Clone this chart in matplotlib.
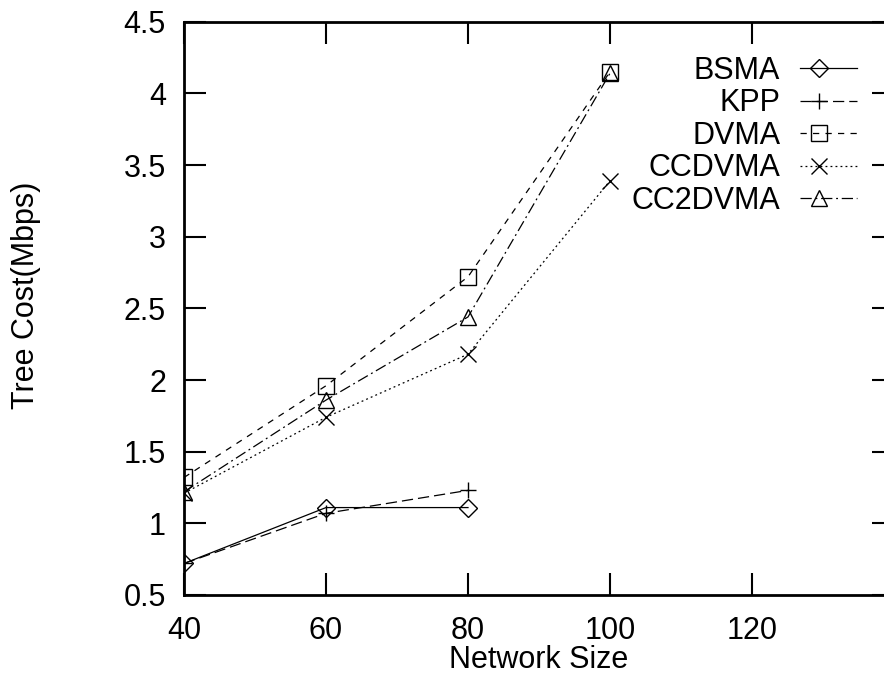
import matplotlib
matplotlib.use("Agg")
import matplotlib.pyplot as plt
import matplotlib.lines as mlines
import numpy as np
from matplotlib.legend_handler import HandlerLine2DCompound

plt.rcParams['font.family'] = ['Liberation Sans', 'DejaVu Sans']

network_size = [40, 60, 80, 100]
bsma = [0.72, 1.11, 1.11]
kpp = [0.72, 1.07, 1.23]
dvma = [1.32, 1.96, 2.72, 4.15]
ccdvma = [1.21, 1.74, 2.18, 3.39]
cc2dvma = [1.22, 1.86, 2.44, 4.14]

x_ticks = [40, 60, 80, 100, 120]
y_ticks = [0.5, 1, 1.5, 2, 2.5, 3, 3.5, 4, 4.5]
y_tick_labels = ['0.5', '1', '1.5', '2', '2.5', '3', '3.5', '4', '4.5']


class OffsetMarkerHandler(HandlerLine2DCompound):
    def get_xdata(self, legend, xdescent, ydescent, width, height, fontsize):
        xdata = np.array([-xdescent, -xdescent + width])
        xm = np.array([-xdescent + 0.33 * width])
        return xdata, xm


W, H = 884, 677
fig = plt.figure(figsize=(W / 100, H / 100), dpi=100)
ax = fig.add_axes([184 / W, 82 / H, 710 / W, 573.3 / H])

fs = 22
lw = 0.9
common = dict(color='black', lw=lw, markerfacecolor='none', markeredgecolor='black', markeredgewidth=1.0)

series = [
    ('BSMA', bsma, dict(ls='-', marker='D', ms=9.5)),
    ('KPP', kpp, dict(ls=(0, (9, 4)), marker='+', ms=12)),
    ('DVMA', dvma, dict(ls=(0, (5, 5)), marker='s', ms=11.5)),
    ('CCDVMA', ccdvma, dict(ls=(0, (1.5, 2.5)), marker='x', ms=11)),
    ('CC2DVMA', cc2dvma, dict(ls=(0, (9, 3, 1.5, 3)), marker='^', ms=12)),
]
for name, vals, style in series:
    ax.plot(network_size[:len(vals)], vals, label=name, **common, **style)

ax.set_xlim(40, 140)
ax.set_ylim(0.5, 4.5)
ax.set_xticks(x_ticks)
ax.set_yticks(y_ticks)
ax.set_yticklabels(y_tick_labels)
ax.tick_params(axis='both', which='both', direction='in', length=16, width=1.5,
               top=True, right=True, labelsize=fs)
ax.tick_params(axis='y', pad=13)
ax.tick_params(axis='x', pad=15)
for sp in ax.spines.values():
    sp.set_linewidth(2)

ax.set_xlabel('Network Size', fontsize=fs)
ax.set_ylabel('Tree Cost(Mbps)', fontsize=fs)
ax.yaxis.set_label_coords(41 / W, 1 - 295 / H, transform=fig.transFigure)
ax.xaxis.set_label_coords(539 / W, 1 - 668 / H, transform=fig.transFigure)
ax.xaxis.label.set_verticalalignment('baseline')

leg = ax.legend(loc='upper right', bbox_to_anchor=(857 / W, 1 - 56 / H),
                bbox_transform=fig.transFigure, frameon=False, markerfirst=False,
                fontsize=fs, handlelength=1.86, handletextpad=0.65,
                labelspacing=0.08, borderpad=0, borderaxespad=0,
                handler_map={mlines.Line2D: OffsetMarkerHandler()})
for t in leg.get_texts():
    t.set_ha('right')

fig.savefig('out.png', dpi=100)
